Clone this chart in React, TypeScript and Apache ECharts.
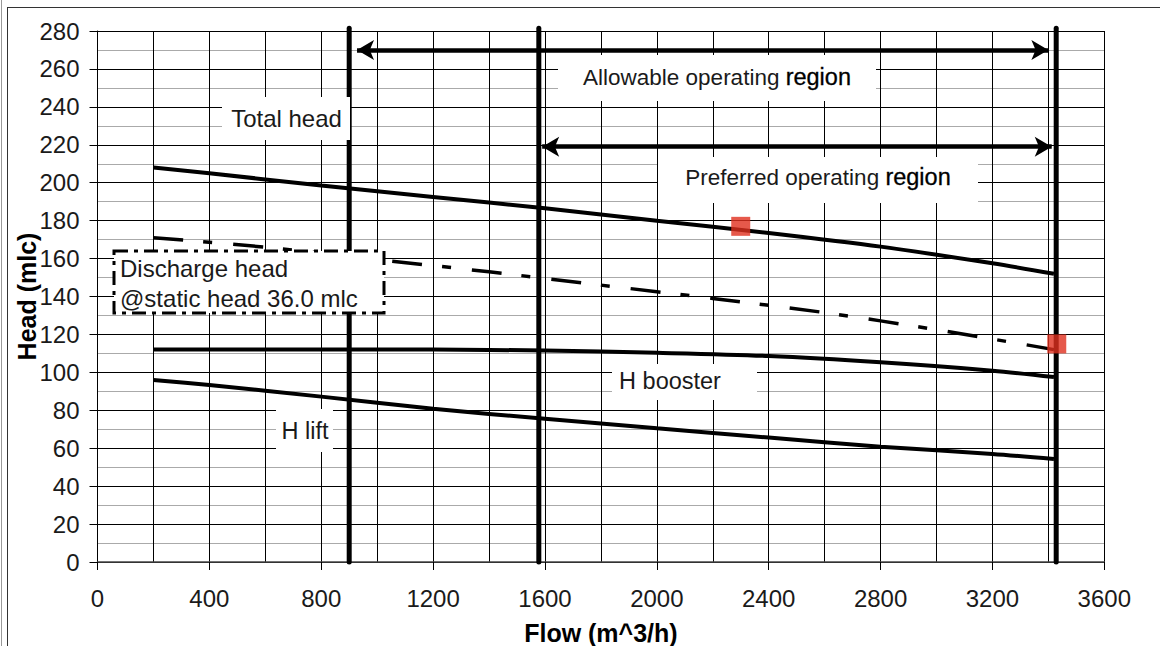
import React, { useEffect, useRef } from "react";
import * as echarts from "echarts";

const FONT = '"Liberation Sans", Arial, Helvetica, sans-serif';

// Curve sample flows (m^3/h)
const curveFlows = [200, 400, 800, 1200, 1600, 2000, 2400, 2800, 3200, 3420];
const totalHead = [208, 205, 198.5, 192.5, 186.5, 180, 173.5, 166.3, 157.5, 152];
const hBooster = [112, 112, 112, 112, 111.5, 110.3, 108.6, 105.3, 100.9, 97.5];
const hLift = [96, 93.3, 87.2, 80.8, 75.5, 70.5, 65.6, 60.8, 57, 54.3];

const dischargeFlows = [200, 600, 1000, 1400, 1800, 2200, 2600, 3000, 3420];
const dischargeHead = [171, 166, 159.5, 153, 146, 139, 131.5, 122.5, 112];

const markerFlows = [2300, 3430];
const markerHeads = [177, 115];

const boundaryFlows = [900, 1578, 3428];
const boundaryTop = 281.5;

const allowableRange = [928, 3400];
const allowableLevel = 270;
const preferredRange = [1590, 3412];
const preferredLevel = 219;

const xTickLabels = ["0", "400", "800", "1200", "1600", "2000", "2400", "2800", "3200", "3600"];
const yTickLabels = ["0", "20", "40", "60", "80", "100", "120", "140", "160", "180", "200", "220", "240", "260", "280"];

const zip = (xs: number[], ys: number[]) => xs.map((x, i) => [x, ys[i]]);

export default function App() {
  const ref = useRef<HTMLDivElement>(null);
  useEffect(() => {
    if (!ref.current) return;
    const chart = echarts.init(ref.current, null, { renderer: "svg" });
    const textColor = "#1a1a1a";
    const boxText = (cx: number, cy: number, text: string, size: number, rich?: any) => ({
      type: "text",
      z: 60,
      x: cx,
      y: cy,
      style: {
        text,
        fontSize: size,
        fontFamily: FONT,
        fill: textColor,
        align: "center",
        verticalAlign: "middle",
        rich,
      },
    });
    const whiteRect = (x: number, y: number, w: number, h: number) => ({
      type: "rect",
      z: 55,
      shape: { x, y, width: w, height: h },
      style: { fill: "#fff", stroke: null },
    });
    const regionRich = {
      r: { fontSize: 23.5, fontFamily: FONT, fill: "#000", stroke: "#000", lineWidth: 0.3 },
    };

    const option: any = {
      animation: false,
      backgroundColor: "#fff",
      grid: { left: 97.5, right: 55.7, top: 31, bottom: 84, containLabel: false, outerBoundsMode: "none" },
      xAxis: {
        type: "value",
        min: 0,
        max: 3600,
        interval: 400,
        name: "Flow (m^3/h)",
        nameLocation: "middle",
        nameGap: 58,
        nameMoveOverlap: false,
        nameTextStyle: { fontWeight: "bold", fontSize: 25, color: "#000", fontFamily: FONT },
        axisLine: { show: true, onZero: false, lineStyle: { color: "#444", width: 1.5 } },
        axisTick: { show: true, length: 8, lineStyle: { color: "#000" } },
        axisLabel: {
          fontSize: 24,
          color: textColor,
          margin: 24,
          fontFamily: FONT,
          formatter: (v: number) => xTickLabels[Math.round(v / 400)] ?? String(v),
        },
        splitLine: { show: true, lineStyle: { color: "#000", width: 1 } },
        minorTick: { show: false, splitNumber: 2 },
        minorSplitLine: { show: true, lineStyle: { color: "#000", width: 1 } },
      },
      yAxis: {
        type: "value",
        min: 0,
        max: 280,
        interval: 20,
        name: "Head (mlc)",
        nameLocation: "middle",
        nameGap: 58,
        nameMoveOverlap: false,
        nameRotate: 90,
        nameTextStyle: { fontWeight: "bold", fontSize: 25, color: "#000", fontFamily: FONT },
        axisLine: { show: true, lineStyle: { color: "#000", width: 1 } },
        axisTick: { show: true, length: 8, lineStyle: { color: "#000" } },
        axisLabel: {
          fontSize: 24,
          color: textColor,
          margin: 18,
          fontFamily: FONT,
          formatter: (v: number) => yTickLabels[Math.round(v / 20)] ?? String(v),
        },
        splitLine: { show: true, lineStyle: { color: "#000", width: 1 } },
        minorTick: { show: false, splitNumber: 2 },
        minorSplitLine: { show: true, lineStyle: { color: "#aaa", width: 1 } },
      },
      series: [
        ...boundaryFlows.map((f) => ({
          type: "line",
          data: [
            [f, 0],
            [f, boundaryTop],
          ],
          symbol: "none",
          clip: false,
          z: 3,
          lineStyle: { color: "#000", width: 5, cap: "round" },
        })),
        {
          type: "line",
          data: zip(curveFlows, totalHead),
          smooth: 0.3,
          symbol: "none",
          z: 4,
          lineStyle: { color: "#000", width: 4 },
        },
        {
          type: "line",
          data: zip(curveFlows, hBooster),
          smooth: 0.3,
          symbol: "none",
          z: 4,
          lineStyle: { color: "#000", width: 4 },
        },
        {
          type: "line",
          data: zip(curveFlows, hLift),
          smooth: 0.3,
          symbol: "none",
          z: 4,
          lineStyle: { color: "#000", width: 4 },
        },
        {
          type: "line",
          data: zip(dischargeFlows, dischargeHead),
          smooth: 0.3,
          symbol: "none",
          z: 4,
          lineStyle: { color: "#000", width: 3.5, type: [30, 20, 9, 21] },
        },
        {
          type: "line",
          data: [],
          symbol: "none",
          markLine: {
            silent: true,
            symbol: ["arrow", "arrow"],
            symbolSize: [15, 17],
            label: { show: false },
            lineStyle: { color: "#000", width: 4.5, type: "solid" },
            data: [
              [{ coord: [allowableRange[0], allowableLevel] }, { coord: [allowableRange[1], allowableLevel] }],
              [{ coord: [preferredRange[0], preferredLevel] }, { coord: [preferredRange[1], preferredLevel] }],
            ],
          },
        },
        {
          type: "scatter",
          data: zip(markerFlows, markerHeads),
          symbol: "rect",
          symbolSize: 19,
          z: 10,
          itemStyle: { color: "#e0301e" },
        },
      ],
      graphic: [
        { type: "line", z: 60, shape: { x1: 7, y1: 7.5, x2: 1160, y2: 7.5 }, style: { stroke: "#333", lineWidth: 1 } },
        { type: "line", z: 60, shape: { x1: 7.5, y1: 7, x2: 7.5, y2: 646 }, style: { stroke: "#333", lineWidth: 1 } },
        { type: "line", z: 60, shape: { x1: 1.5, y1: 0, x2: 1.5, y2: 646 }, style: { stroke: "#999", lineWidth: 1 } },
        whiteRect(222, 97, 128, 43),
        boxText(286.5, 118, "Total head", 24),
        whiteRect(558, 55, 318, 46),
        boxText(717, 77, "Allowable operating {r|region}", 22.5, regionRich),
        whiteRect(658, 157, 320, 46),
        boxText(818, 177, "Preferred operating {r|region}", 22.5, regionRich),
        whiteRect(612, 364, 145, 36),
        boxText(670, 381, "H booster", 23.5),
        whiteRect(276, 409, 57, 43),
        boxText(305, 431, "H lift", 23.5),
        {
          type: "rect",
          z: 55,
          shape: { x: 114, y: 251, width: 270, height: 62 },
          style: { fill: "#fff", stroke: "#000", lineWidth: 3, lineDash: [14, 6, 4, 6] },
        },
        {
          type: "text",
          z: 60,
          x: 120,
          y: 268,
          style: { text: "Discharge head", fontSize: 24, fontFamily: FONT, fill: textColor, align: "left", verticalAlign: "middle" },
        },
        {
          type: "text",
          z: 60,
          x: 120,
          y: 298,
          style: { text: "@static head 36.0 mlc", fontSize: 24, fontFamily: FONT, fill: textColor, align: "left", verticalAlign: "middle" },
        },
      ],
    };
    chart.setOption(option);
    return () => chart.dispose();
  }, []);
  return (
    <div
      ref={ref}
      style={{ position: "fixed", left: 0, top: 0, width: 1160, height: 646, background: "#fff" }}
    />
  );
}
